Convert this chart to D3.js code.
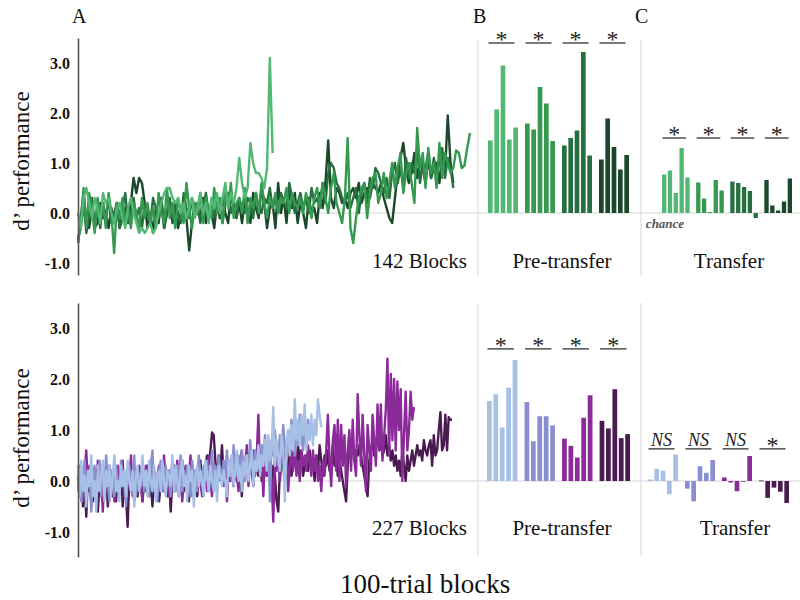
<!DOCTYPE html>
<html><head><meta charset="utf-8">
<script src="https://cdn.jsdelivr.net/npm/d3@7"></script>
<style>body{margin:0;background:#fff} svg{display:block} text{font-family:"Liberation Serif","Times New Roman",serif}</style>
</head><body><svg id="c" width="800" height="600"></svg>
<script>
// ---------- DATA ----------
const tickValues = [3, 2, 1, 0, -1];
const topBlocks = 142, bottomBlocks = 227;

// Top panel learning curves (d' per 100-trial block)
const green1 = [0.0,-0.3,0.3,0.5,0.2,-0.1,0.3,0.1,-0.2,0.4,
 0.2,0.3,0.0,-0.2,0.1,0.2,-0.1,-0.3,0.1,0.3,
 0.0,-0.2,-0.4,-0.3,-0.4,-0.3,-0.2,-0.4,-0.3,0.0,
 0.2,0.4,0.5,0.5,0.3,0.2,0.3,0.0,0.2,-0.1,
 0.1,0.3,-0.1,0.1,0.4,0.0,0.2,-0.2,0.3,0.1,
 0.4,0.0,0.3,0.6,0.1,0.4,0.2,0.5,1.1,0.6,
 0.3,0.5,1.4,1.0,0.8,0.8,0.7,0.5,0.9,3.1,
 1.2];
const green2 = [-0.6,-0.2,0.5,-0.3,0.4,0.1,-0.4,0.3,0.0,0.2,
 -0.3,0.4,0.0,-0.8,0.2,-0.1,0.3,-0.2,0.1,-0.3,
 0.2,0.0,-0.3,0.3,-0.1,0.2,-0.2,0.1,-0.3,0.4,
 0.0,-0.2,0.5,-0.1,0.2,-0.3,0.3,0.0,-0.2,0.6,
 0.1,-0.3,0.2,0.0,0.4,-0.2,0.3,0.1,-0.1,0.5,
 0.0,0.3,-0.2,0.4,0.1,0.6,-0.1,0.2,0.3,0.0,
 0.5,-0.2,0.3,0.1,0.4,0.0,0.6,0.2,-0.1,0.3,
 0.1,0.4,0.0,0.3,0.2,0.5,0.0,0.4,0.2,0.1,
 0.3,0.0,0.4,0.2,-0.1,0.3,0.5,0.1,0.6,0.3,
 0.0,0.5,0.8,0.2,0.0,-0.2,0.3,1.5,-0.3,-0.6,
 -0.1,0.3,0.5,0.6,-0.1,0.4,0.7,0.8,0.2,0.4,
 0.8,0.3,0.6,1.0,0.5,0.9,1.2,0.4,0.8,1.0,
 0.6,0.2,1.7,0.9,1.2,0.5,1.3,0.8,1.0,0.5,
 1.4,0.7,1.2,1.0,0.8,0.9,1.25,1.2,0.9,0.95,
 1.3,1.6];
const green3 = [-0.5,-0.3,0.2,-0.4,0.0,0.3,-0.2,0.1,-0.3,0.2,
 -0.1,0.3,-0.2,0.0,0.2,-0.3,0.1,0.4,-0.2,0.0,
 0.3,-0.1,0.1,-0.3,0.2,0.0,-0.2,0.3,0.1,-0.1,
 0.2,-0.3,0.0,0.3,-0.1,0.2,0.0,-0.2,0.4,0.1,
 -0.1,0.3,0.0,0.2,-0.2,0.1,0.4,0.0,0.2,-0.1,
 0.3,0.1,-0.2,0.2,0.4,0.0,0.2,-0.1,0.3,0.1,
 0.0,0.3,0.2,-0.1,0.4,0.1,0.0,0.3,0.2,0.5,
 0.1,0.3,0.0,0.4,0.2,0.1,0.6,0.3,0.0,0.2,
 0.4,0.1,0.3,0.0,0.5,0.2,0.3,0.1,0.6,0.2,
 0.8,1.0,0.9,0.6,0.5,0.3,0.2,0.4,0.1,0.3,
 0.5,0.0,0.4,0.6,0.2,0.7,0.5,0.9,0.8,0.6,
 0.4,0.7,0.3,0.8,1.0,0.6,0.9,0.5,1.1,0.7,
 1.0,0.8,1.3,0.6,1.0,0.9,1.2,0.7,1.1,0.8,
 1.0,1.3,0.7,1.1,0.9,0.5];
const green4 = [-0.6,-0.1,0.4,-0.2,-0.3,0.1,-0.3,-0.2,0.2,-0.1,
 0.0,-0.3,0.1,-0.2,0.2,-0.3,-0.1,0.1,-0.2,0.2,
 0.7,0.4,0.7,0.6,0.2,-0.3,0.0,-0.4,0.1,-0.2,
 0.3,-0.3,0.0,0.2,-0.2,0.1,-0.3,0.0,0.2,-0.1,
 -0.75,-0.2,0.2,0.0,-0.1,0.3,-0.2,0.1,0.0,-0.3,
 0.2,-0.1,0.3,0.0,-0.2,0.4,0.1,-0.1,0.2,-0.2,
 0.3,0.0,-0.2,0.4,0.1,-0.1,0.5,0.2,-0.3,0.1,
 0.2,-0.3,0.6,0.0,0.3,-0.2,0.5,0.1,0.4,-0.2,
 0.2,0.0,-0.3,0.3,0.0,0.1,-0.2,0.4,0.1,0.6,
 1.45,0.3,0.1,0.5,0.4,0.2,0.3,0.1,0.4,0.5,
 0.3,0.6,0.2,0.4,0.5,0.3,0.6,0.5,0.4,0.6,
 0.3,0.1,-0.1,-0.2,0.3,0.8,1.1,1.4,0.9,0.6,
 0.8,1.2,0.7,1.0,0.9,0.6,1.1,0.7,0.9,1.0,
 0.6,1.2,0.8,1.95,1.0,0.6];

// Bottom panel learning curves
const blue1 = [0.3,-0.3,0.4,-0.2,0.1,-0.5,0.2,-0.1,0.5,-0.3,
 0.0,-0.6,0.3,-0.2,0.1,0.4,-0.4,0.2,-0.1,0.3,
 -0.3,0.1,0.5,-0.2,0.0,-0.4,0.3,-0.1,0.2,-0.3,
 0.4,0.0,-0.2,0.2,-0.5,0.1,0.3,-0.2,0.0,0.5,
 -0.1,0.2,-0.3,0.4,0.0,-0.2,0.3,-0.4,0.1,0.2,
 -0.2,0.4,0.0,-0.3,0.2,0.1,-0.1,0.5,-0.2,0.3,
 0.0,-0.3,0.2,0.4,-0.1,0.1,-0.4,0.3,0.0,0.2,
 -0.5,0.1,0.3,-0.1,0.2,0.0,-0.3,0.4,0.1,-0.2,
 0.3,0.0,-0.2,0.2,-0.4,0.3,0.1,-0.1,0.2,0.0,
 -0.3,0.4,0.1,0.5,-0.1,0.2,0.6,0.0,0.3,-0.2,
 0.4,0.1,0.5,0.0,0.3,0.6,-0.1,0.4,0.2,0.7,
 0.1,0.5,0.3,0.8,0.2,0.9,0.4,0.6,1.45,0.3,
 0.8,0.5,0.2,0.9,0.6,-0.4,0.7,1.0,0.5,1.1,
 0.6,1.6,0.8,1.2,0.7,1.3,0.9,1.5,0.6,1.1,
 0.8,1.3,0.7,1.2,0.9,1.6,1.3,1.05];
const blue2 = [-0.2,0.3,-0.4,0.1,0.4,-0.3,0.0,0.2,-0.6,0.1,
 0.3,-0.2,0.0,0.4,-0.3,0.2,-0.1,0.5,0.0,-0.4,
 0.2,0.1,-0.3,0.3,0.0,-0.2,0.4,-0.1,0.2,-0.5,
 0.1,0.3,-0.2,0.0,0.5,-0.3,0.2,0.1,-0.1,0.4,
 -0.2,0.2,0.0,-0.3,0.3,0.6,-0.1,0.1,-0.4,0.2,
 0.4,-0.2,0.0,0.3,-0.1,0.2,-0.3,0.4,0.1,-0.2,
 0.3,0.0,0.5,-0.2,0.2,-0.1,0.3,0.1,-0.3,0.4,
 0.0,0.2,-0.2,0.5,0.1,-0.1,0.3,0.0,0.4,-0.2,
 0.2,0.6,0.0,0.3,-0.1,0.5,0.2,0.0,0.4,0.1,
 0.6,0.2,0.4,0.0,0.7,0.3,0.1,0.5,0.2,0.6,
 0.3,0.0,0.5,0.2,0.8,0.4,0.1,0.6,0.3,0.5,
 0.2,0.7,0.4,0.9,0.3,0.6,-0.4,0.8,0.5,1.0,
 0.6,0.3,0.9,0.5,1.1,0.7,0.4,1.0,0.6,1.2,
 0.8,0.5,1.1,0.7,1.3,0.9,0.6,1.0,0.8,1.2,
 0.9,1.0];
const purple1 = [0.3,-0.2,0.1,-0.4,0.2,0.6,-0.1,0.3,-0.5,0.0,
 0.2,-0.3,0.4,-0.1,0.1,-0.6,0.2,0.0,-0.2,0.3,
 -0.1,0.2,-0.4,0.1,0.3,-0.2,0.0,0.4,-0.3,0.1,
 0.2,-0.1,0.5,-0.3,0.0,0.2,-0.2,0.3,0.1,-0.4,
 0.1,0.3,-0.2,0.0,0.4,-0.1,0.2,-0.3,0.1,0.3,
 -0.2,0.0,0.5,-0.1,0.2,-0.3,0.1,0.3,-0.2,0.0,
 0.4,-0.1,0.2,-0.4,0.0,0.3,-0.2,0.1,0.5,-0.3,
 0.1,0.2,-0.1,0.4,0.0,-0.3,0.2,0.1,-0.2,0.5,
 0.0,-0.3,0.3,0.1,-0.2,0.4,0.0,0.2,-0.1,0.3,
 -0.4,0.2,0.0,0.5,-0.1,0.3,0.1,-0.2,0.4,0.6,
 0.0,0.3,0.7,-0.1,0.4,0.2,0.6,0.1,0.5,1.3,
 0.2,0.4,-0.3,0.6,0.1,0.8,0.3,0.0,-0.8,0.5,
 0.2,0.7,0.0,0.4,0.9,0.1,0.5,-0.2,0.3,0.6,
 0.2,0.8,0.1,0.4,0.0,0.6,0.3,0.5,0.2,0.7,
 0.4,0.1,0.6,0.2,0.5,0.0,0.3,-0.2,0.4,0.1,
 0.6,1.3,0.4,-0.1,0.8,1.1,0.2,1.2,0.0,1.1,
 0.3,0.9,-0.1,0.6,1.0,0.2,1.2,0.4,0.1,1.7,
 0.9,0.3,1.3,0.5,-0.2,1.1,0.6,0.2,1.3,0.8,
 0.3,1.5,0.6,1.5,0.4,0.9,1.4,2.4,0.5,2.1,
 0.8,2.0,0.6,1.95,1.0,1.8,0.0,0.9,1.75,0.6,
 1.0,1.75,1.2,1.45];
const purple2 = [0.1,-0.3,0.2,-0.5,0.0,-0.7,0.1,-0.2,0.3,-0.4,
 -0.1,0.2,-0.6,0.0,-0.3,0.1,-0.2,0.3,-0.5,-0.1,
 0.2,-0.3,0.0,-0.4,0.1,-0.2,0.3,-0.5,0.0,-0.3,
 -0.9,0.1,-0.2,0.2,-0.4,0.0,-0.3,0.2,-0.1,-0.4,
 0.1,-0.2,0.3,-0.3,0.0,-0.5,0.2,-0.1,0.1,-0.4,
 0.0,0.3,-0.2,0.1,-0.3,0.2,-0.6,0.0,0.3,-0.1,
 0.2,-0.3,0.1,0.4,-0.2,0.0,0.2,-0.4,0.1,0.3,
 -0.1,0.2,-0.3,0.0,0.4,-0.2,0.1,0.3,0.5,0.2,
 0.6,0.95,0.9,0.4,0.0,0.5,0.2,0.7,0.1,0.3,
 -0.2,0.4,0.1,0.2,-0.1,0.5,0.0,0.3,0.2,-0.3,
 0.4,0.1,0.3,0.0,0.6,0.2,-0.1,0.5,0.3,0.1,
 0.4,0.0,0.3,0.5,0.1,0.2,0.6,-0.2,0.3,0.1,
 -0.4,-0.6,0.2,0.5,0.3,0.0,0.4,0.2,0.6,0.1,
 0.3,0.5,0.2,0.7,0.4,0.6,0.1,0.3,0.5,0.2,
 0.6,0.3,0.4,0.0,0.5,0.2,0.7,0.4,0.1,0.5,
 0.3,0.6,0.2,0.4,0.7,0.3,0.5,0.1,0.4,0.2,
 0.0,-0.2,-0.4,0.3,0.6,0.5,0.7,0.4,0.6,0.5,
 0.7,0.5,0.3,0.1,-0.1,-0.3,0.4,0.6,0.8,0.5,
 0.7,0.9,0.6,0.8,0.5,0.6,0.9,0.5,0.7,0.4,
 0.6,0.3,0.5,0.2,0.4,0.1,0.6,0.3,0.0,0.5,
 0.2,0.4,0.6,0.3,0.5,0.7,0.5,0.6,0.4,0.8,
 0.6,0.5,0.7,0.8,0.3,0.9,0.5,0.6,1.0,1.35,
 0.6,0.7,1.3,0.6,1.25,1.2,1.2];

// Bar groups: 4 groups x 5 bars
const preTop = [[1.45,2.07,2.95,1.47,1.71],[1.79,1.67,2.52,2.19,1.44],[1.35,1.5,1.65,3.22,1.15],[1.07,1.89,1.32,0.87,1.16]];
const transferTop = [[0.77,0.85,0.4,1.3,0.71],[0.61,0.29,0.02,0.66,0.45],[0.63,0.6,0.52,0.44,-0.1],[0.66,0.15,0.05,0.23,0.69]];
const preBottom = [[1.57,1.7,1.05,1.83,2.37],[1.55,0.78,1.27,1.27,1.09],[0.83,0.69,0.46,1.24,1.68],[1.18,1.03,1.8,0.84,0.92]];
const transferBottom = [[0.03,0.24,0.2,-0.26,0.52],[-0.15,-0.4,0.29,0.16,0.41],[0.07,-0.03,-0.2,0.0,0.49],[0.01,-0.33,-0.13,-0.21,-0.43]];
const sigPreTop = ["*","*","*","*"], sigTrTop = ["*","*","*","*"];
const sigPreBottom = ["*","*","*","*"], sigTrBottom = ["NS","NS","NS","*"];

const greenColors = ["#52b874", "#35994f", "#26703f", "#1b472b"];
const purpleColors = ["#a7c0e5", "#8b8ed0", "#8b2b99", "#4a1b50"];

// ---------- DRAW ----------
const svg = d3.select("#c");

const panels = [
  { lines: [green1, green2, green3, green4], colors: greenColors, n: topBlocks,
    xr: [78, 470], yd: [-1.24, 3.5], yr: [275, 38], blocksLabel: "142 Blocks",
    pre: preTop, tr: transferTop, preR: [488, 629], trR: [662, 792],
    sigPre: sigPreTop, sigTr: sigTrTop, sigPreLvl: 3.4, sigTrLvl: 1.5,
    labelY: 268, sep: [40, 276], yTitleY: 161, chance: true, drawOrder: [3,2,1,0] },
  { lines: [blue1, blue2, purple1, purple2], colors: purpleColors, n: bottomBlocks,
    xr: [78, 452], yd: [-1.49, 3.49], yr: [557, 303], blocksLabel: "227 Blocks",
    pre: preBottom, tr: transferBottom, preR: [487, 630], trR: [648, 789],
    sigPre: sigPreBottom, sigTr: sigTrBottom, sigPreLvl: 2.59, sigTrLvl: 0.63,
    labelY: 535, sep: [303, 556], yTitleY: 438, chance: false, drawOrder: [3,2,1,0] }
];

panels.forEach(p => {
  const x = d3.scaleLinear().domain([0, p.n - 1]).range(p.xr);
  const y = d3.scaleLinear().domain(p.yd).range(p.yr);
  const g = svg.append("g");

  // zero (chance) line
  g.append("line").attr("x1", p.xr[0]).attr("x2", 800)
    .attr("y1", y(0)).attr("y2", y(0)).attr("stroke", "#d6d6d6").attr("stroke-width", 1.2);

  // separators
  [478, 641].forEach(sx => g.append("line").attr("x1", sx).attr("x2", sx)
    .attr("y1", p.sep[0]).attr("y2", p.sep[1]).attr("stroke", "#dcdcdc").attr("stroke-width", 1.2));

  // lines
  const line = d3.line().x((d, i) => x(i)).y(d => y(d));
  p.drawOrder.forEach(k => {
    g.append("path").datum(p.lines[k]).attr("d", line).attr("fill", "none")
      .attr("stroke", p.colors[k]).attr("stroke-width", 2.4).attr("stroke-linejoin", "round");
  });

  // axis
  const ax = g.append("g").attr("transform", `translate(${p.xr[0]},0)`)
    .call(d3.axisLeft(y).tickValues(tickValues).tickSize(0).tickSizeOuter(0).tickPadding(8)
      .tickFormat(d => d.toFixed(1)));
  ax.select(".domain").attr("stroke", "#555").attr("stroke-width", 1.6);
  ax.selectAll("text").attr("font-family", "Liberation Serif").attr("font-weight", "bold")
    .attr("font-size", 16).attr("fill", "#111");

  // y title
  g.append("text").attr("transform", `translate(29,${p.yTitleY}) rotate(-90)`)
    .attr("text-anchor", "middle").attr("font-size", 23).attr("fill", "#111").text("d\u2019 performance");

  // bars
  function barsPanel(data, range, sig, lvl, labelX, label) {
    const gx = d3.scaleBand().domain(d3.range(data.length)).range(range).paddingInner(0.19);
    const bx = d3.scaleBand().domain(d3.range(5)).range([0, gx.bandwidth()]).padding(0.26).paddingOuter(0);
    data.forEach((vals, gi) => {
      g.selectAll(null).data(vals).enter().append("rect")
        .attr("x", (d, i) => gx(gi) + bx(i)).attr("width", bx.bandwidth())
        .attr("y", d => Math.min(y(d), y(0))).attr("height", d => Math.max(0.8, Math.abs(y(d) - y(0))))
        .attr("fill", p.colors[gi]);
      const x0 = gx(gi) + 0.5, x1 = gx(gi) + gx.bandwidth() - 3.5;
      g.append("line").attr("x1", x0).attr("x2", x1).attr("y1", y(lvl)).attr("y2", y(lvl))
        .attr("stroke", "#222").attr("stroke-width", 1.2);
      const isStar = sig[gi] === "*";
      g.append("text").attr("x", (x0 + x1) / 2).attr("y", isStar ? y(lvl) + 4 : y(lvl) - 2.5)
        .attr("text-anchor", "middle").attr("font-size", isStar ? 24 : 18)
        .attr("font-style", isStar ? "normal" : "italic").attr("fill", "#222").text(sig[gi]);
    });
    g.append("text").attr("x", labelX).attr("y", p.labelY).attr("text-anchor", "middle")
      .attr("font-size", 21).attr("fill", "#111").text(label);
  }
  barsPanel(p.pre, p.preR, p.sigPre, p.sigPreLvl, 562, "Pre-transfer");
  barsPanel(p.tr, p.trR, p.sigTr, p.sigTrLvl, p.chance ? 729 : 735, "Transfer");

  g.append("text").attr("x", 467).attr("y", p.labelY).attr("text-anchor", "end")
    .attr("font-size", 21).attr("fill", "#111").text(p.blocksLabel);

  if (p.chance) {
    g.append("text").attr("x", 665).attr("y", y(0) + 15).attr("text-anchor", "middle")
      .attr("font-size", 13).attr("font-style", "italic").attr("font-weight", "bold")
      .attr("fill", "#555").text("chance");
  }
});

// panel letters
[["A", 72], ["B", 473], ["C", 635]].forEach(([t, lx]) =>
  svg.append("text").attr("x", lx).attr("y", 23).attr("font-size", 20).attr("fill", "#111").text(t));

// x title
svg.append("text").attr("x", 340).attr("y", 593).attr("font-size", 27).attr("fill", "#111").text("100-trial blocks");
</script></body></html>
